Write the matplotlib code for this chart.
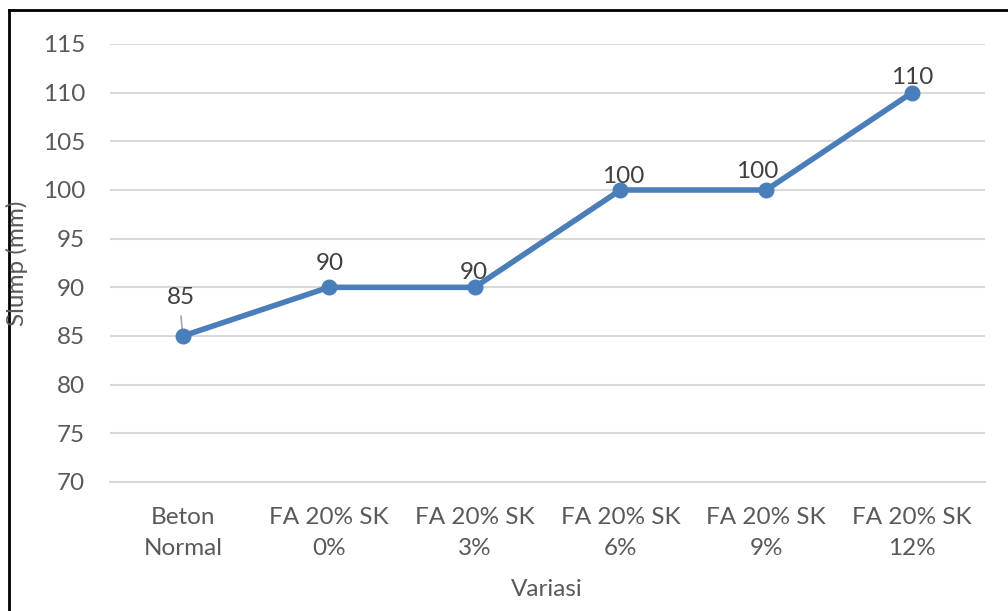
import matplotlib
matplotlib.use("Agg")
import matplotlib.pyplot as plt
from matplotlib.lines import Line2D

plt.rcParams['font.family'] = ['Lato', 'DejaVu Sans']

categories = ["Beton\nNormal", "FA 20% SK\n0%", "FA 20% SK\n3%",
              "FA 20% SK\n6%", "FA 20% SK\n9%", "FA 20% SK\n12%"]
slump = [85, 90, 90, 100, 100, 110]
y_ticks = [70, 75, 80, 85, 90, 95, 100, 105, 110, 115]

# label offsets in pixels (dx, dy) relative to each point
label_offsets = [(-2, 38), (1, 24), (-1, 15), (3, 13), (-9, 18), (0, 15)]

W, H = 1008, 611
fig = plt.figure(figsize=(W / 100, H / 100), dpi=100)
ax = fig.add_axes([110 / W, (H - 482) / H, (985 - 110) / W, (482 - 44) / H])

x = list(range(len(categories)))
ax.plot(x, slump, color='#4A7EBB', lw=4, marker='o', markersize=10.5,
        solid_capstyle='round', zorder=3)

ax.set_xlim(-0.5, len(categories) - 0.5)
ax.set_ylim(y_ticks[0], y_ticks[-1])
ax.set_yticks(y_ticks)
ax.set_xticks(x)
ax.set_xticklabels(categories, linespacing=1.6)
ax.grid(axis='y', color='#D9D9D9', lw=1.5)
ax.set_axisbelow(True)
for s in ['top', 'right', 'left']:
    ax.spines[s].set_visible(False)
ax.spines['bottom'].set_color('#D9D9D9')
ax.spines['bottom'].set_linewidth(1.5)
ax.tick_params(axis='both', length=0, labelsize=17.5, labelcolor='#595959')
ax.tick_params(axis='y', pad=18)
ax.tick_params(axis='x', pad=18)

for i, (xi, yi) in enumerate(zip(x, slump)):
    dx, dy = label_offsets[i]
    ax.annotate(str(yi), (xi, yi), xytext=(dx, dy), textcoords='offset pixels',
                ha='center', va='center', fontsize=17.5, color='#404040', zorder=4)

# leader line for first label
ax.annotate("", (x[0], slump[0]), xytext=(-2, 20), textcoords='offset pixels',
            arrowprops=dict(arrowstyle='-', color='#A6A6A6', lw=1.2,
                            shrinkA=0, shrinkB=4), zorder=2)

fig.text(547 / W, 1 - 590 / H, "Variasi", ha='center', va='center',
         fontsize=17.5, color='#595959')
fig.text(17 / W, 1 - 263 / H, "Slump (mm)", ha='center', va='center',
         rotation=90, fontsize=17.5, color='#595959')

# outer border (top and left)
fig.add_artist(Line2D([9 / W, 1], [1 - 10 / H, 1 - 10 / H], color='black', lw=2,
                      transform=fig.transFigure))
fig.add_artist(Line2D([9 / W, 9 / W], [0, 1 - 10 / H], color='black', lw=2,
                      transform=fig.transFigure))

fig.savefig("out.png", dpi=100)
